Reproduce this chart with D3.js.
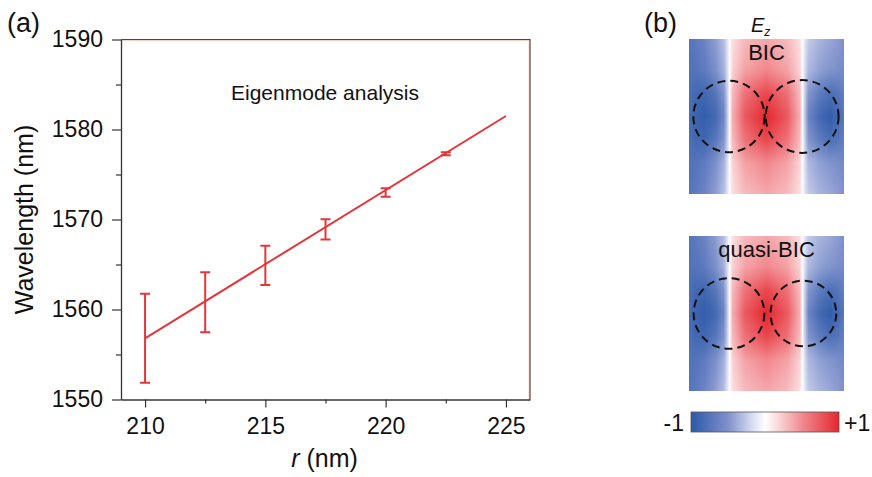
<!DOCTYPE html>
<html>
<head>
<meta charset="utf-8">
<script src="https://cdn.jsdelivr.net/npm/d3@7"></script>
<style>
  body { margin: 0; background: #fff; }
  svg { display: block; font-family: "Liberation Sans", Arial, sans-serif; }
</style>
</head>
<body>
<div id="chart"></div>
<script>
// ---- data ----
const rValues = [210, 212.5, 215, 217.5, 220, 222.5];
const wlMean = [1556.8, 1560.8, 1564.9, 1568.9, 1573.0, 1577.3];
const wlErr = [4.95, 3.33, 2.17, 1.13, 0.47, 0.17];
const fitR = [210, 225];
const fitWl = [1556.8, 1581.5];
const xTicks = [210, 215, 220, 225];
const xMinor = [212.5, 217.5, 222.5];
const yTicks = [1550, 1560, 1570, 1580, 1590];
const yMinor = [1555, 1565, 1575, 1585];

// field map profiles (E_z, normalised), across the unit cell
const fieldPos = [0, 0.04, 0.10, 0.17, 0.225, 0.252, 0.262, 0.28, 0.36, 0.5, 0.635, 0.715, 0.733, 0.743, 0.77, 0.845, 0.91, 0.96, 1];
const fieldMid = [-0.8, -0.9, -0.95, -0.85, -0.6, -0.2, 0, 0.35, 0.75, 1, 0.75, 0.35, 0, -0.2, -0.6, -0.85, -0.95, -0.85, -0.7];
const fieldEdge = [-0.75, -0.7, -0.6, -0.45, -0.3, -0.1, 0, 0.15, 0.3, 0.38, 0.3, 0.15, 0, -0.1, -0.25, -0.35, -0.4, -0.45, -0.5];
const fadePos = [0, 0.2, 0.35, 0.5, 0.65, 0.8, 1];
const fadeOpacity = [1, 0.75, 0.25, 0, 0.25, 0.75, 1];
const colorStops = [-1, -0.5, -0.2, 0, 0.2, 0.5, 1];
const colorValues = ["#2b59a9", "#7f8fcb", "#d0d6ee", "#ffffff", "#f9d3d5", "#f08a90", "#e5272f"];
const bicHoles = [{ x: 0.258, y: 0.5, r: 0.23 }, { x: 0.73, y: 0.5, r: 0.235 }];
const qbicHoles = [{ x: 0.258, y: 0.5, r: 0.228 }, { x: 0.738, y: 0.5, r: 0.212 }];

const W = 872, H = 477;
const svg = d3.select("#chart").append("svg").attr("width", W).attr("height", H);
const defs = svg.append("defs");

// ---- panel (a) ----
const plot = { left: 121, right: 530, top: 39.5, bottom: 399.5 };
const x = d3.scaleLinear().domain([209, 226]).range([plot.left, plot.right]);
const y = d3.scaleLinear().domain([1550, 1590]).range([plot.bottom, plot.top]);
const axisColor = "#333";
const red = "#e1363b";

// frame top/right
svg.append("line").attr("x1", plot.left).attr("x2", plot.right).attr("y1", plot.top + 1).attr("y2", plot.top + 1)
  .attr("stroke", "#f6d2c2").attr("stroke-width", 1);
svg.append("line").attr("x1", plot.right - 1).attr("x2", plot.right - 1).attr("y1", plot.top).attr("y2", plot.bottom)
  .attr("stroke", "#f6d2c2").attr("stroke-width", 1);
svg.append("path")
  .attr("d", `M${plot.left},${plot.top}H${plot.right}V${plot.bottom}`)
  .attr("fill", "none").attr("stroke", "#5b4038").attr("stroke-width", 1.2);

// x axis
svg.append("g").attr("transform", `translate(0,${plot.bottom})`)
  .call(d3.axisBottom(x).tickValues(xTicks).tickSize(8).tickPadding(10).tickSizeOuter(0));
svg.append("g").attr("transform", `translate(0,${plot.bottom})`)
  .call(d3.axisBottom(x).tickValues(xMinor).tickSize(4).tickFormat("").tickSizeOuter(0))
  .select(".domain").remove();

// y axis
svg.append("g").attr("transform", `translate(${plot.left},0)`)
  .call(d3.axisLeft(y).tickValues(yTicks).tickSize(9).tickPadding(9).tickFormat(d3.format("d")).tickSizeOuter(0));
svg.append("g").attr("transform", `translate(${plot.left},0)`)
  .call(d3.axisLeft(y).tickValues(yMinor).tickSize(5).tickFormat("").tickSizeOuter(0))
  .select(".domain").remove();

svg.selectAll(".domain").attr("stroke", axisColor).attr("stroke-width", 1.3);
svg.selectAll(".tick line").attr("stroke", axisColor).attr("stroke-width", 1.2);
svg.selectAll(".tick text").attr("fill", "#111").style("font-size", "23px")
  .style("font-family", "'Liberation Sans', Arial, sans-serif");

// fit line
svg.append("path")
  .datum(fitR.map((r, i) => [r, fitWl[i]]))
  .attr("d", d3.line().x(d => x(d[0])).y(d => y(d[1])))
  .attr("fill", "none").attr("stroke", red).attr("stroke-width", 2);

// error bars
const eb = svg.append("g").attr("stroke", red).attr("stroke-width", 2).attr("fill", "none");
rValues.forEach((r, i) => {
  const x0 = x(r), yt = y(wlMean[i] + wlErr[i]), yb = y(wlMean[i] - wlErr[i]);
  eb.append("path").attr("d", `M${x0},${yt}V${yb}M${x0 - 5},${yt}H${x0 + 5}M${x0 - 5},${yb}H${x0 + 5}`);
});

// labels
svg.append("text").attr("x", 325).attr("y", 100).attr("text-anchor", "middle")
  .style("font-size", "21px").attr("fill", "#111").text("Eigenmode analysis");
svg.append("text").attr("transform", "rotate(-90)").attr("x", -(plot.top + plot.bottom) / 2).attr("y", 33)
  .attr("text-anchor", "middle").style("font-size", "25px").attr("fill", "#111").text("Wavelength (nm)");
const xl = svg.append("text").attr("x", (plot.left + plot.right) / 2 - 1).attr("y", 467)
  .attr("text-anchor", "middle").style("font-size", "25px").attr("fill", "#111");
xl.append("tspan").style("font-style", "italic").text("r");
xl.append("tspan").text(" (nm)");
svg.append("text").attr("x", 7).attr("y", 32).style("font-size", "27px").attr("fill", "#111").text("(a)");

// ---- panel (b) ----
svg.append("text").attr("x", 644).attr("y", 32).style("font-size", "27px").attr("fill", "#111").text("(b)");
const ez = svg.append("text").attr("x", 751).attr("y", 32).style("font-size", "20px").attr("fill", "#111");
ez.append("tspan").style("font-style", "italic").text("E");
ez.append("tspan").style("font-style", "italic").style("font-size", "12px").attr("dy", 4).text("z");

const color = d3.scaleLinear().domain(colorStops).range(colorValues).interpolate(d3.interpolateRgb);

function gradient(id, pos, vals) {
  const g = defs.append("linearGradient").attr("id", id).attr("x1", "0").attr("x2", "1").attr("y1", "0").attr("y2", "0");
  pos.forEach((p, i) => g.append("stop").attr("offset", p).attr("stop-color", color(vals[i])));
}
gradient("gMid", fieldPos, fieldMid);
gradient("gEdge", fieldPos, fieldEdge);

const fade = defs.append("linearGradient").attr("id", "gFade").attr("x1", "0").attr("x2", "0").attr("y1", "0").attr("y2", "1");
fadePos.forEach((p, i) => fade.append("stop").attr("offset", p).attr("stop-color", "#fff").attr("stop-opacity", fadeOpacity[i]));

const cbGrad = defs.append("linearGradient").attr("id", "gBar");
colorStops.forEach(v => cbGrad.append("stop").attr("offset", (v + 1) / 2).attr("stop-color", color(v)));

function fieldPanel(id, x0, y0, size, label, holes) {
  const s = d3.scaleLinear().domain([0, 1]).range([0, size]);
  const g = svg.append("g").attr("transform", `translate(${x0},${y0})`);
  const mask = defs.append("mask").attr("id", "m" + id).attr("maskContentUnits", "userSpaceOnUse");
  mask.append("rect").attr("x", x0).attr("y", y0).attr("width", size).attr("height", size).attr("fill", "url(#gFade)");
  g.append("rect").attr("width", s(1)).attr("height", s(1)).attr("fill", "url(#gMid)");
  svg.append("rect").attr("x", x0).attr("y", y0).attr("width", s(1)).attr("height", s(1))
    .attr("fill", "url(#gEdge)").attr("mask", `url(#m${id})`);
  const g2 = svg.append("g").attr("transform", `translate(${x0},${y0})`);
  g2.selectAll("circle").data(holes).enter().append("circle")
    .attr("cx", d => s(d.x)).attr("cy", d => s(d.y)).attr("r", d => s(d.r))
    .attr("fill", "none").attr("stroke", "#111").attr("stroke-width", 2).attr("stroke-dasharray", "8,5");
  g2.append("text").attr("x", s(0.5)).attr("y", 21).attr("text-anchor", "middle")
    .style("font-size", "22px").attr("fill", "#111").text(label);
}
fieldPanel("a", 689, 39, 155, "BIC", bicHoles);
fieldPanel("b", 689, 236, 155, "quasi-BIC", qbicHoles);

// colour bar
const cb = d3.scaleLinear().domain([-1, 1]).range([691, 839]);
svg.append("rect").attr("x", cb(-1)).attr("y", 412).attr("width", cb(1) - cb(-1)).attr("height", 20)
  .attr("fill", "url(#gBar)").attr("stroke", "#555").attr("stroke-width", 0.8);
svg.append("text").attr("x", cb(-1) - 7).attr("y", 431).attr("text-anchor", "end")
  .style("font-size", "23px").attr("fill", "#111").text("-1");
svg.append("text").attr("x", cb(1) + 5).attr("y", 431)
  .style("font-size", "23px").attr("fill", "#111").text("+1");
</script>
</body>
</html>
